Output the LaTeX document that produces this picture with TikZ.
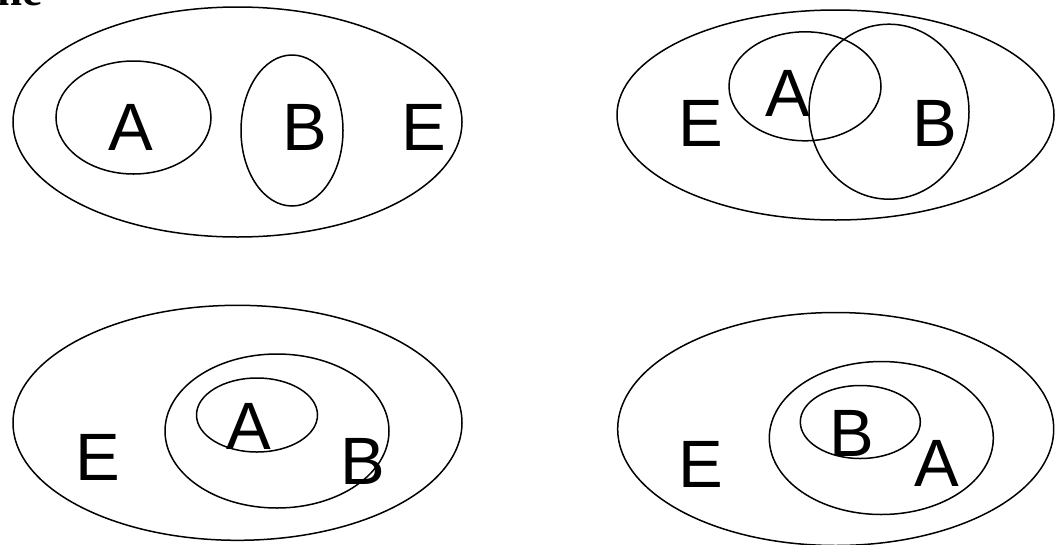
\documentclass[tikz,border=0pt]{standalone}
\usepackage{fontspec}
\setmainfont{Liberation Sans}
\newfontfamily\headfont{Liberation Serif}
\usetikzlibrary{shapes.geometric}
\tikzset{
  setell/.style={draw, ellipse, line width=1.5pt, inner sep=0pt},
  lbl/.style={font=\fontsize{67}{67}\selectfont, inner sep=0pt, anchor=center},
}
\begin{document}
\begin{tikzpicture}[x=1pt,y=-1pt]
\useasboundingbox (0,0) rectangle (1062,544);
% cut-off heading fragment
\begin{scope}
\clip (0,0) rectangle (1062,544);
\node[anchor=base west, inner sep=0pt, font=\headfont\bfseries\fontsize{45}{45}\selectfont] (head) at (-3,5) {ne};
\end{scope}
% Panel 1: disjoint
\node[setell, minimum width=449, minimum height=230] (E1) at (237.5,122) {};
\node[setell, minimum width=155, minimum height=113] (A1) at (133.5,117.5) {};
\node[setell, minimum width=102, minimum height=151] (B1) at (292,130.5) {};
\node[lbl] (tA1) at (131,127) {A};
\node[lbl] (tB1) at (304.5,127) {B};
\node[lbl] (tE1) at (423.5,127) {E};
% Panel 2: overlapping
\node[setell, minimum width=437, minimum height=210] (E2) at (835.5,115) {};
\node[setell, minimum width=152, minimum height=109] (A2) at (805,86.3) {};
\node[setell, minimum width=160, minimum height=175] (B2) at (889,111.7) {};
\node[lbl] (tE2) at (701,123) {E};
\node[lbl] (tA2) at (787.5,93) {A};
\node[lbl] (tB2) at (935,123) {B};
% Panel 3: A subset of B
\node[setell, minimum width=449, minimum height=235] (E3) at (237.5,422.8) {};
\node[setell, minimum width=224, minimum height=154] (B3) at (277,431) {};
\node[setell, minimum width=121, minimum height=74] (A3) at (257,415) {};
\node[lbl] (tE3) at (97.5,457) {E};
\node[lbl] (tA3) at (248.5,426.7) {A};
\node[lbl] (tB3) at (362.5,461.5) {B};
% Panel 4: B subset of A
\node[setell, minimum width=436, minimum height=233] (E4) at (835.7,429) {};
\node[setell, minimum width=224, minimum height=153] (A4) at (881.3,438) {};
\node[setell, minimum width=120, minimum height=73] (B4) at (860.3,422) {};
\node[lbl] (tE4) at (701,464) {E};
\node[lbl] (tB4) at (852.3,433) {B};
\node[lbl] (tA4) at (937,463.3) {A};
\end{tikzpicture}
\end{document}
